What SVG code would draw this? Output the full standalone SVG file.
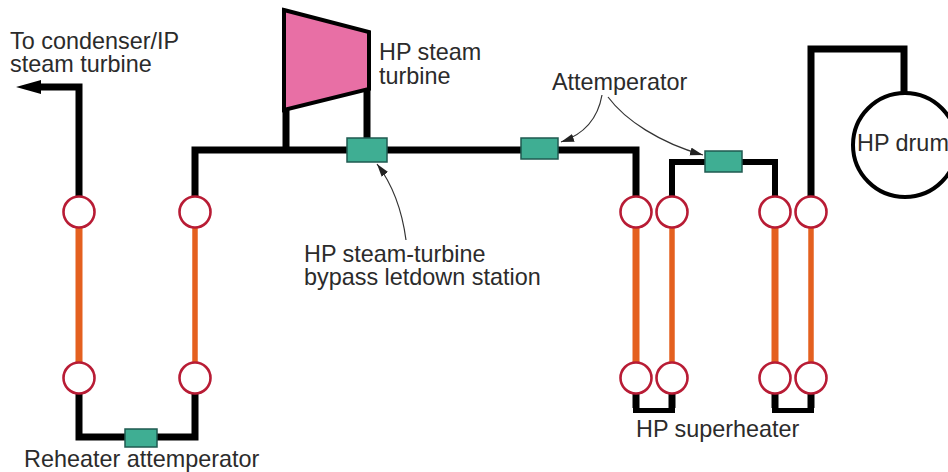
<svg xmlns="http://www.w3.org/2000/svg" width="948" height="472" viewBox="0 0 948 472">
  <defs>
    <style>
      text { font-family: "Liberation Sans", Arial, sans-serif; font-size: 23.4px; fill: #2b2b2b; }
      .pipe { fill: none; stroke: #000; stroke-width: 7; }
      .pipe6 { fill: none; stroke: #000; stroke-width: 6; }
      .thin { fill: none; stroke: #000; stroke-width: 5; }
      .tube { fill: none; stroke: #e4601f; stroke-width: 7; }
      .tube6 { fill: none; stroke: #e4601f; stroke-width: 5.500; }
      .lead { fill: none; stroke: #333; stroke-width: 1.2; marker-end: url(#ah); }
      .port { fill: #fff; stroke: #b81c35; stroke-width: 2.600; }
      .valve { fill: #3fae93; stroke: #1f5a50; stroke-width: 1.500; }
    </style>
    <marker id="ah" markerUnits="userSpaceOnUse" markerWidth="14" markerHeight="10" refX="13" refY="4" orient="auto">
      <path d="M0,0 L13,4 L0,8 Z" fill="#222"/>
    </marker>
  </defs>
  <rect width="948" height="472" fill="#fff"/>
  <g id="connectors">
    <path class="pipe" d="M79,198 V87 H38"/>
    <path d="M16,87 L41,80 V94 Z" fill="#000"/>
    <path class="pipe" d="M195,198 V150 H636 V198"/>
    <path class="pipe" d="M286,110 V150"/>
    <path class="pipe" d="M367,89 V140"/>
    <path class="pipe6" d="M672,198 V162 H775 V198"/>
    <path class="pipe" d="M811,198 V49 H904 V94"/>
    <path class="pipe" d="M79,392 V437 H195 V392"/>
    <path class="pipe" d="M636,392 V408"/>
    <path class="pipe" d="M672,392 V408"/>
    <path class="thin" d="M633,410.500 H675"/>
    <path class="pipe" d="M775,392 V408"/>
    <path class="pipe" d="M811,392 V408"/>
    <path class="thin" d="M772,410.500 H814"/>
    <path class="tube" d="M79,226 V364"/>
    <path class="tube6" d="M195,226 V364"/>
    <path class="tube" d="M636,226 V364"/>
    <path class="tube6" d="M672,226 V364"/>
    <path class="tube" d="M775,226 V364"/>
    <path class="tube6" d="M811,226 V364"/>
    <path class="lead" d="M406,240 C402,210 393,185 377,164"/>
    <path class="lead" d="M602,95 C598,118 585,134 561,142"/>
    <path class="lead" d="M608,97 C625,120 660,143 703,155"/>
  </g>
  <g id="hp-turbine">
    <polygon points="284,10 369,32 369,89 284,110" fill="#e86fa5" stroke="#000" stroke-width="4"/>
    <text><tspan x="379" y="60">HP steam</tspan><tspan x="379" y="84">turbine</tspan></text>
  </g>
  <g id="hp-drum">
    <circle cx="905" cy="145" r="52" fill="#fff" stroke="#000" stroke-width="4"/>
    <text x="857" y="151">HP drum</text>
  </g>
  <g id="bypass-valve">
    <rect class="valve" x="347" y="138" width="40" height="24"/>
    <text><tspan x="304" y="262">HP steam-turbine</tspan><tspan x="304" y="285">bypass letdown station</tspan></text>
  </g>
  <g id="attemperator-1"><rect class="valve" x="521" y="138" width="37" height="21"/></g>
  <g id="attemperator-2"><rect class="valve" x="705" y="151" width="37" height="21"/></g>
  <g id="attemperator-label"><text x="552" y="90">Attemperator</text></g>
  <g id="reheater-attemperator">
    <rect class="valve" x="125" y="429" width="32" height="18"/>
    <text x="24" y="467">Reheater attemperator</text>
  </g>
  <g id="condenser-label">
    <text><tspan x="10" y="49">To condenser/IP</tspan><tspan x="10" y="72">steam turbine</tspan></text>
  </g>
  <g id="hp-superheater-label"><text x="636" y="437">HP superheater</text></g>
  <g id="reheater-ports">
    <circle class="port" cx="79" cy="212" r="15.500"/>
    <circle class="port" cx="195" cy="212" r="15.500"/>
    <circle class="port" cx="79" cy="378" r="15.500"/>
    <circle class="port" cx="195" cy="378" r="15.500"/>
  </g>
  <g id="superheater-ports">
    <circle class="port" cx="636" cy="212" r="15.500"/>
    <circle class="port" cx="672" cy="212" r="15.500"/>
    <circle class="port" cx="775" cy="212" r="15.500"/>
    <circle class="port" cx="811" cy="212" r="15.500"/>
    <circle class="port" cx="636" cy="378" r="15.500"/>
    <circle class="port" cx="672" cy="378" r="15.500"/>
    <circle class="port" cx="775" cy="378" r="15.500"/>
    <circle class="port" cx="811" cy="378" r="15.500"/>
  </g>
</svg>
